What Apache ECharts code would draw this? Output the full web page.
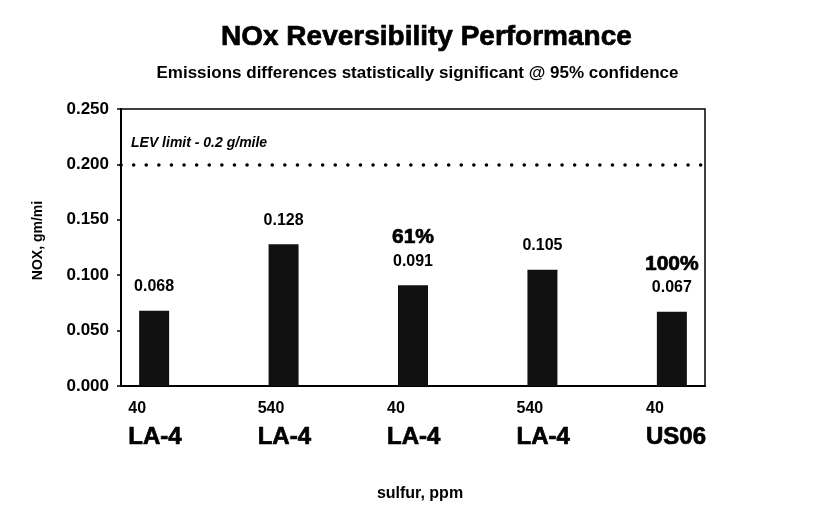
<!DOCTYPE html>
<html>
<head>
<meta charset="utf-8">
<script src="https://cdn.jsdelivr.net/npm/echarts@6/dist/echarts.min.js"></script>
<style>
  html, body { margin: 0; padding: 0; background: #fff; }
  #chart { width: 835px; height: 508px; }
</style>
</head>
<body>
<div id="chart"></div>
<script>
// data
var sulfur = ['40', '540', '40', '540', '40'];
var cycles = ['LA-4', 'LA-4', 'LA-4', 'LA-4', 'US06'];
var noxValues = [0.068, 0.128, 0.091, 0.105, 0.067];
var reversibility = ['', '', '61%', '', '100%'];
var yTicks = [0, 0.05, 0.1, 0.15, 0.2, 0.25];
var levLimit = 0.2;

var font = 'Arial, "Liberation Sans", Helvetica, sans-serif';

var chartDom = document.getElementById('chart');
var myChart = echarts.init(chartDom);

// bars sit on x = 0..4 of a value axis so the frame can be wider than the bar spread
var barData = noxValues.map(function (v, i) { return [i, v]; });

// heavier strokes for the big bold texts (the scan looks very black)
var heavy = { textBorderColor: '#000', textBorderWidth: 0.7 };

var option = {
  backgroundColor: '#fff',
  animation: false,
  textStyle: { fontFamily: font, color: '#000', fontWeight: 'bold' },
  title: [
    {
      text: 'NOx Reversibility Performance',
      left: 216,
      top: 18,
      textStyle: Object.assign({ fontSize: 28, fontWeight: 'bold', color: '#000', fontFamily: font }, heavy)
    },
    {
      text: 'Emissions differences statistically significant @ 95% confidence',
      left: 'center',
      top: 60,
      textStyle: { fontSize: 17, fontWeight: 'bold', color: '#000', fontFamily: font }
    }
  ],
  grid: {
    left: 121,
    right: 130,
    top: 109,
    bottom: 122,
    show: true,
    borderColor: '#000',
    borderWidth: 1.5,
    containLabel: false,
    outerBoundsMode: 'none'
  },
  xAxis: {
    type: 'value',
    min: -0.256,
    max: 4.256,
    name: 'sulfur, ppm',
    nameLocation: 'middle',
    nameGap: 100,
    nameTextStyle: { fontSize: 16, fontWeight: 'bold', color: '#000', fontFamily: font, padding: [0, 0, 0, 14] },
    axisLine: { show: true, onZero: false, lineStyle: { color: '#000', width: 2 } },
    axisTick: { show: false },
    splitLine: { show: false },
    axisLabel: {
      customValues: sulfur.map(function (s, i) { return i - 0.2; }),
      align: 'left',
      margin: 12,
      fontWeight: 'bold',
      formatter: function (v) {
        var i = Math.round(v);
        return '{a|' + sulfur[i] + '}\n{b|' + cycles[i] + '}';
      },
      rich: {
        a: { fontSize: 16, fontWeight: 'bold', color: '#000', fontFamily: font, lineHeight: 22 },
        b: Object.assign({ fontSize: 24, fontWeight: 'bold', color: '#000', fontFamily: font, lineHeight: 34 }, heavy)
      }
    }
  },
  yAxis: {
    type: 'value',
    min: 0,
    max: 0.25,
    interval: 0.05,
    name: 'NOX, gm/mi',
    nameLocation: 'middle',
    nameRotate: 90,
    nameGap: 76,
    nameTextStyle: { fontSize: 14, fontWeight: 'bold', color: '#000', fontFamily: font, padding: [0, 0, 0, 14] },
    axisLine: { show: true, onZero: false, lineStyle: { color: '#000', width: 2 } },
    axisTick: { show: true, length: 4, lineStyle: { color: '#000', width: 1.5 } },
    splitLine: { show: false },
    axisLabel: {
      margin: 12,
      fontSize: 17,
      fontWeight: 'bold',
      color: '#000',
      fontFamily: font,
      formatter: function (v) { return v.toFixed(3); }
    }
  },
  series: [
    {
      type: 'bar',
      data: barData,
      barWidth: 30,
      itemStyle: { color: '#111' },
      label: {
        show: true,
        position: 'top',
        distance: 14,
        fontWeight: 'bold',
        fontSize: 16,
        formatter: function (p) {
          var i = p.dataIndex;
          var txt = '{v|' + noxValues[i].toFixed(3) + '}';
          if (reversibility[i]) txt = '{p|' + reversibility[i] + '}\n' + txt;
          return txt;
        },
        rich: {
          p: Object.assign({ fontSize: 21, fontWeight: 'bold', color: '#000', fontFamily: font, lineHeight: 28 }, heavy),
          v: { fontSize: 16, fontWeight: 'bold', color: '#000', fontFamily: font, lineHeight: 20 }
        }
      },
      markLine: {
        silent: true,
        symbol: 'none',
        lineStyle: { color: '#000', type: [0.1, 12.5], width: 3.5, cap: 'round' },
        label: {
          show: true,
          position: 'insideStartTop',
          distance: [10, 14],
          formatter: 'LEV limit - 0.2 g/mile',
          fontSize: 14,
          fontStyle: 'italic',
          fontWeight: 'bold',
          color: '#000',
          fontFamily: font
        },
        data: [{ yAxis: levLimit }]
      }
    }
  ]
};

myChart.setOption(option);

window.addEventListener('resize', function () {
  myChart.resize();
});
</script>
</body>
</html>
